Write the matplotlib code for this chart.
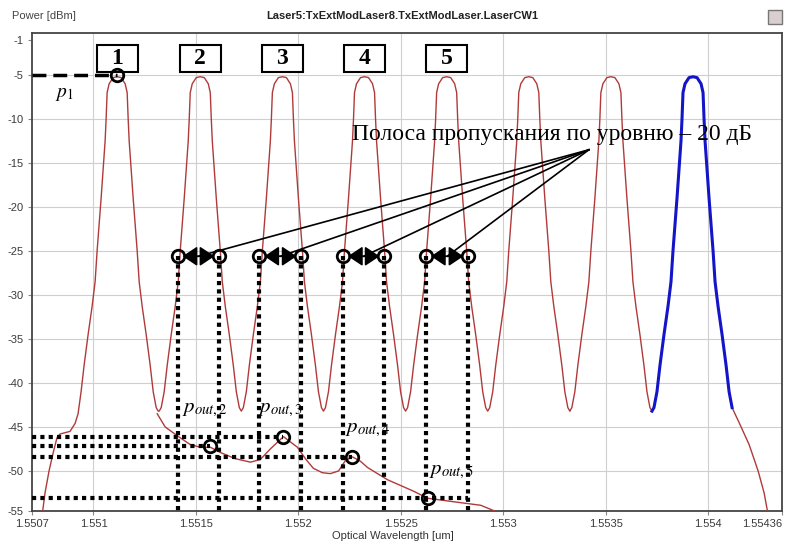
import matplotlib
matplotlib.use('Agg')
import matplotlib.pyplot as plt
from matplotlib.patches import Rectangle
import numpy as np

plt.rcParams['mathtext.fontset'] = 'stix'
plt.rcParams['font.family'] = ['Liberation Sans', 'DejaVu Sans']

# ---------------- data ----------------
title = 'Laser5:TxExtModLaser8.TxExtModLaser.LaserCW1'
ylabel_text = 'Power [dBm]'
xlabel_text = 'Optical Wavelength [um]'

# channel centre wavelengths (um)
channel_centers = [1.5511155, 1.5515211, 1.5519219, 1.5523227,
                   1.5527235, 1.5531243, 1.5535250, 1.5539258]
channel_labels = ['1', '2', '3', '4', '5']

# one-sided shape of each channel peak: offset from centre (um) and level (dBm)
profile_offset = [0.0, 1.96e-5, 3.91e-5, 4.89e-5, 5.38e-5, 5.87e-5, 7.82e-5,
                  9.78e-5, 1.075e-4, 1.222e-4, 1.417e-4, 1.613e-4, 1.76e-4,
                  1.906e-4, 2.004e-4]
profile_dbm = [-5.2, -5.3, -6.0, -7.0, -10.0, -12.5, -19.0,
               -25.0, -28.5, -31.3, -34.5, -38.0, -41.0,
               -42.8, -43.2]

# left tail of channel 1
tail_left_x = [1.550744, 1.5507635, 1.5507831, 1.5508026, 1.5508222,
               1.5508369, 1.5508857, 1.5509102, 1.5509248]
tail_left_y = [-56.0, -52.5, -50.0, -48.0, -46.2, -45.8, -45.5, -44.6, -43.5]

# right tail after the last (blue) channel
tail_right_x = [1.5541506, 1.5541995, 1.5542435, 1.5542728, 1.5542924, 1.5542973]
tail_right_y = [-44.5, -47.0, -50.0, -52.5, -55.0, -57.0]

# lower (output) curve
out_x = [1.551311, 1.551350, 1.551409, 1.551472, 1.551521, 1.551570, 1.551619,
         1.551692, 1.551766, 1.551814, 1.551863, 1.551927, 1.551995, 1.552034,
         1.552073, 1.552117, 1.552156, 1.552196, 1.552230, 1.552264, 1.552303,
         1.552337, 1.552435, 1.552562, 1.552631, 1.552758, 1.552890, 1.552963]
out_y = [-43.5, -45.0, -46.0, -47.0, -47.3, -47.3, -47.9,
         -48.6, -49.0, -48.7, -47.5, -46.1, -47.3, -48.6,
         -49.7, -50.2, -50.3, -50.0, -48.8, -48.4, -48.9,
         -49.6, -51.0, -52.3, -53.1, -53.5, -53.9, -54.6]

# -20 dB bandwidth markers
bw_left = [1.551411, 1.551810, 1.552218, 1.552623]
bw_right = [1.551614, 1.552015, 1.552420, 1.552829]
bw_level = -25.6

# p1 and p_out points
p1_x, p1_y = 1.5511155, -5.0
pout_x = [1.551570, 1.551927, 1.552264, 1.552631]
pout_y = [-47.2, -46.1, -48.4, -53.1]
pout_labels = [r'$p_{out,2}$', r'$p_{out,3}$', r'$p_{out,4}$', r'$p_{out,5}$']
# horizontal dotted guide ends (um)
pout_hline_end = [1.551570, 1.551927, 1.552264, 1.552829]

annotation_text = 'Полоса пропускания по уровню – 20 дБ'

xlim = (1.5507, 1.55436)
ylim = (-54.55, -0.23)
xticks_major = [1.551, 1.5515, 1.552, 1.5525, 1.553, 1.5535, 1.554]
xtick_major_labels = ['1.551', '1.5515', '1.552', '1.5525', '1.553', '1.5535', '1.554']
xticks_end = [1.5507, 1.55436]
xtick_end_labels = ['1.5507', '1.55436']
yticks_major = [-50, -45, -40, -35, -30, -25, -20, -15, -10, -5]
ytick_major_labels = ['-50', '-45', '-40', '-35', '-30', '-25', '-20', '-15', '-10', '-5']
yticks_end = [-54.55, -1]
ytick_end_labels = ['-55', '-1']

# ---------------- figure ----------------
W, H = 795, 544
fig = plt.figure(figsize=(W / 100, H / 100), dpi=100)
ax = fig.add_axes([32 / W, 1 - 511 / H, 750 / W, 478 / H])

poff = np.array(profile_offset)
pdb = np.array(profile_dbm)


def peak(c, left_max, right_max):
    lm = poff <= left_max + 1e-12
    rm = poff <= right_max + 1e-12
    xs = list(c - poff[lm][::-1]) + list(c + poff[rm][1:])
    ys = list(pdb[lm][::-1]) + list(pdb[rm][1:])
    return xs, ys


red_x, red_y = list(tail_left_x), list(tail_left_y)
xs, ys = peak(channel_centers[0], profile_offset[12], profile_offset[-1])
red_x += xs
red_y += ys
for c in channel_centers[1:7]:
    xs, ys = peak(c, profile_offset[-1], profile_offset[-1])
    red_x += xs
    red_y += ys
blue_x, blue_y = peak(channel_centers[7], profile_offset[-1], profile_offset[13])
tail_x = [blue_x[-1]] + tail_right_x
tail_y = [blue_y[-1]] + tail_right_y

red = '#b03a3a'
ax.plot(red_x, red_y, color=red, lw=1.0, zorder=3)
ax.plot(tail_x, tail_y, color=red, lw=1.0, zorder=3)
ax.plot(blue_x, blue_y, color='#1414c8', lw=2.2, zorder=3)
ax.plot(out_x, out_y, color=red, lw=1.0, zorder=3)

ax.set_xlim(*xlim)
ax.set_ylim(*ylim)
ax.set_xticks(xticks_major)
ax.set_xticklabels(xtick_major_labels)
ax.set_xticks(xticks_end, minor=True)
ax.set_xticklabels(xtick_end_labels, minor=True)
ax.set_yticks(yticks_major)
ax.set_yticklabels(ytick_major_labels)
ax.set_yticks(yticks_end, minor=True)
ax.set_yticklabels(ytick_end_labels, minor=True)
ax.grid(True, which='major', color='#cfcfcf', lw=0.8, zorder=0)
ax.set_axisbelow(True)
for which in ('major', 'minor'):
    ax.tick_params(axis='both', which=which, length=3, width=0.8, color='#888888',
                   labelsize=8, labelcolor='#3a3a3a', pad=3)
# keep the right-end wavelength label inside the canvas
ax.get_xticklabels(minor=True)[-1].set_horizontalalignment('right')
for s in ax.spines.values():
    s.set_color('#444444')
    s.set_linewidth(1.3)

# dotted guides
dot = (0, (1, 1))
for xv in bw_left + bw_right:
    ax.plot([xv, xv], [bw_level, ylim[0]], color='black', lw=3, ls=dot, zorder=4,
            dash_capstyle='butt')
for yv, xe in zip(pout_y, pout_hline_end):
    ax.plot([xlim[0], xe], [yv, yv], color='black', lw=3, ls=dot, zorder=4,
            dash_capstyle='butt')

# numbered boxes
box_w = 2.004e-4
for c, lab in zip(channel_centers[:5], channel_labels):
    ax.add_patch(Rectangle((c - box_w / 2, -4.7), box_w, 3.1, facecolor='white',
                           edgecolor='black', lw=1.5, zorder=8))
    ax.text(c, -3.1, lab, fontsize=17, fontweight='bold',
            family=['Liberation Serif', 'DejaVu Serif'], ha='center', va='center', zorder=9)

# p1 dashed
ax.plot([xlim[0], p1_x], [p1_y, p1_y], color='black', lw=2.5, ls=(0, (4, 2)), zorder=10)
ax.plot([p1_x], [p1_y], 'o', mfc='none', mec='black', ms=9, mew=2, zorder=10)
ax.text(1.5508124, -7.27, r'$p_1$', fontsize=14, ha='left', va='center', zorder=6)

# p_out markers
ax.plot(pout_x, pout_y, 'o', mfc='none', mec='black', ms=9, mew=2, zorder=6)
pout_text_pos = [(1.5514331, -43.07), (1.5518046, -43.07), (1.5522298, -45.34), (1.5526355, -50.11)]
for (tx, ty), lab in zip(pout_text_pos, pout_labels):
    ax.text(tx, ty, lab, fontsize=15, ha='left', va='center', zorder=6)

# bandwidth double arrows
for xl, xr in zip(bw_left, bw_right):
    ax.plot([xl, xr], [bw_level, bw_level], 'o', mfc='none', mec='black', ms=9, mew=2, zorder=7)
    ax.annotate('', xy=(xl, bw_level), xytext=(xr, bw_level),
                arrowprops=dict(arrowstyle='<|-|>,head_length=0.45,head_width=0.3',
                                color='black', lw=1.2,
                                mutation_scale=20, shrinkA=3.5, shrinkB=3.5), zorder=7)

# annotation text and leader lines
conv = (1.5534175, -13.5)
for xl, xr in zip(bw_left, bw_right):
    ax.plot([conv[0], (xl + xr) / 2], [conv[1], bw_level], color='black', lw=1.2, zorder=6)
ax.text(1.552264, -11.8, annotation_text, fontsize=17, family=['Liberation Serif', 'DejaVu Serif'],
        ha='left', va='center', zorder=8)

# header texts
fig.text(12 / W, 1 - 16 / H, ylabel_text, fontsize=8, color='#444444', ha='left', va='center')
fig.text(402 / W, 1 - 16 / H, title, fontsize=8, fontweight='bold', color='#222222',
         ha='center', va='center')
fig.text(393 / W, 1 - 536 / H, xlabel_text, fontsize=8, color='#333333', ha='center', va='center')
fig.patches.append(Rectangle((768 / W, 1 - 24 / H), 14 / W, 14 / H, transform=fig.transFigure,
                             facecolor='#d9cfcf', edgecolor='#777777', lw=1))

fig.savefig('out.png', dpi=100)
